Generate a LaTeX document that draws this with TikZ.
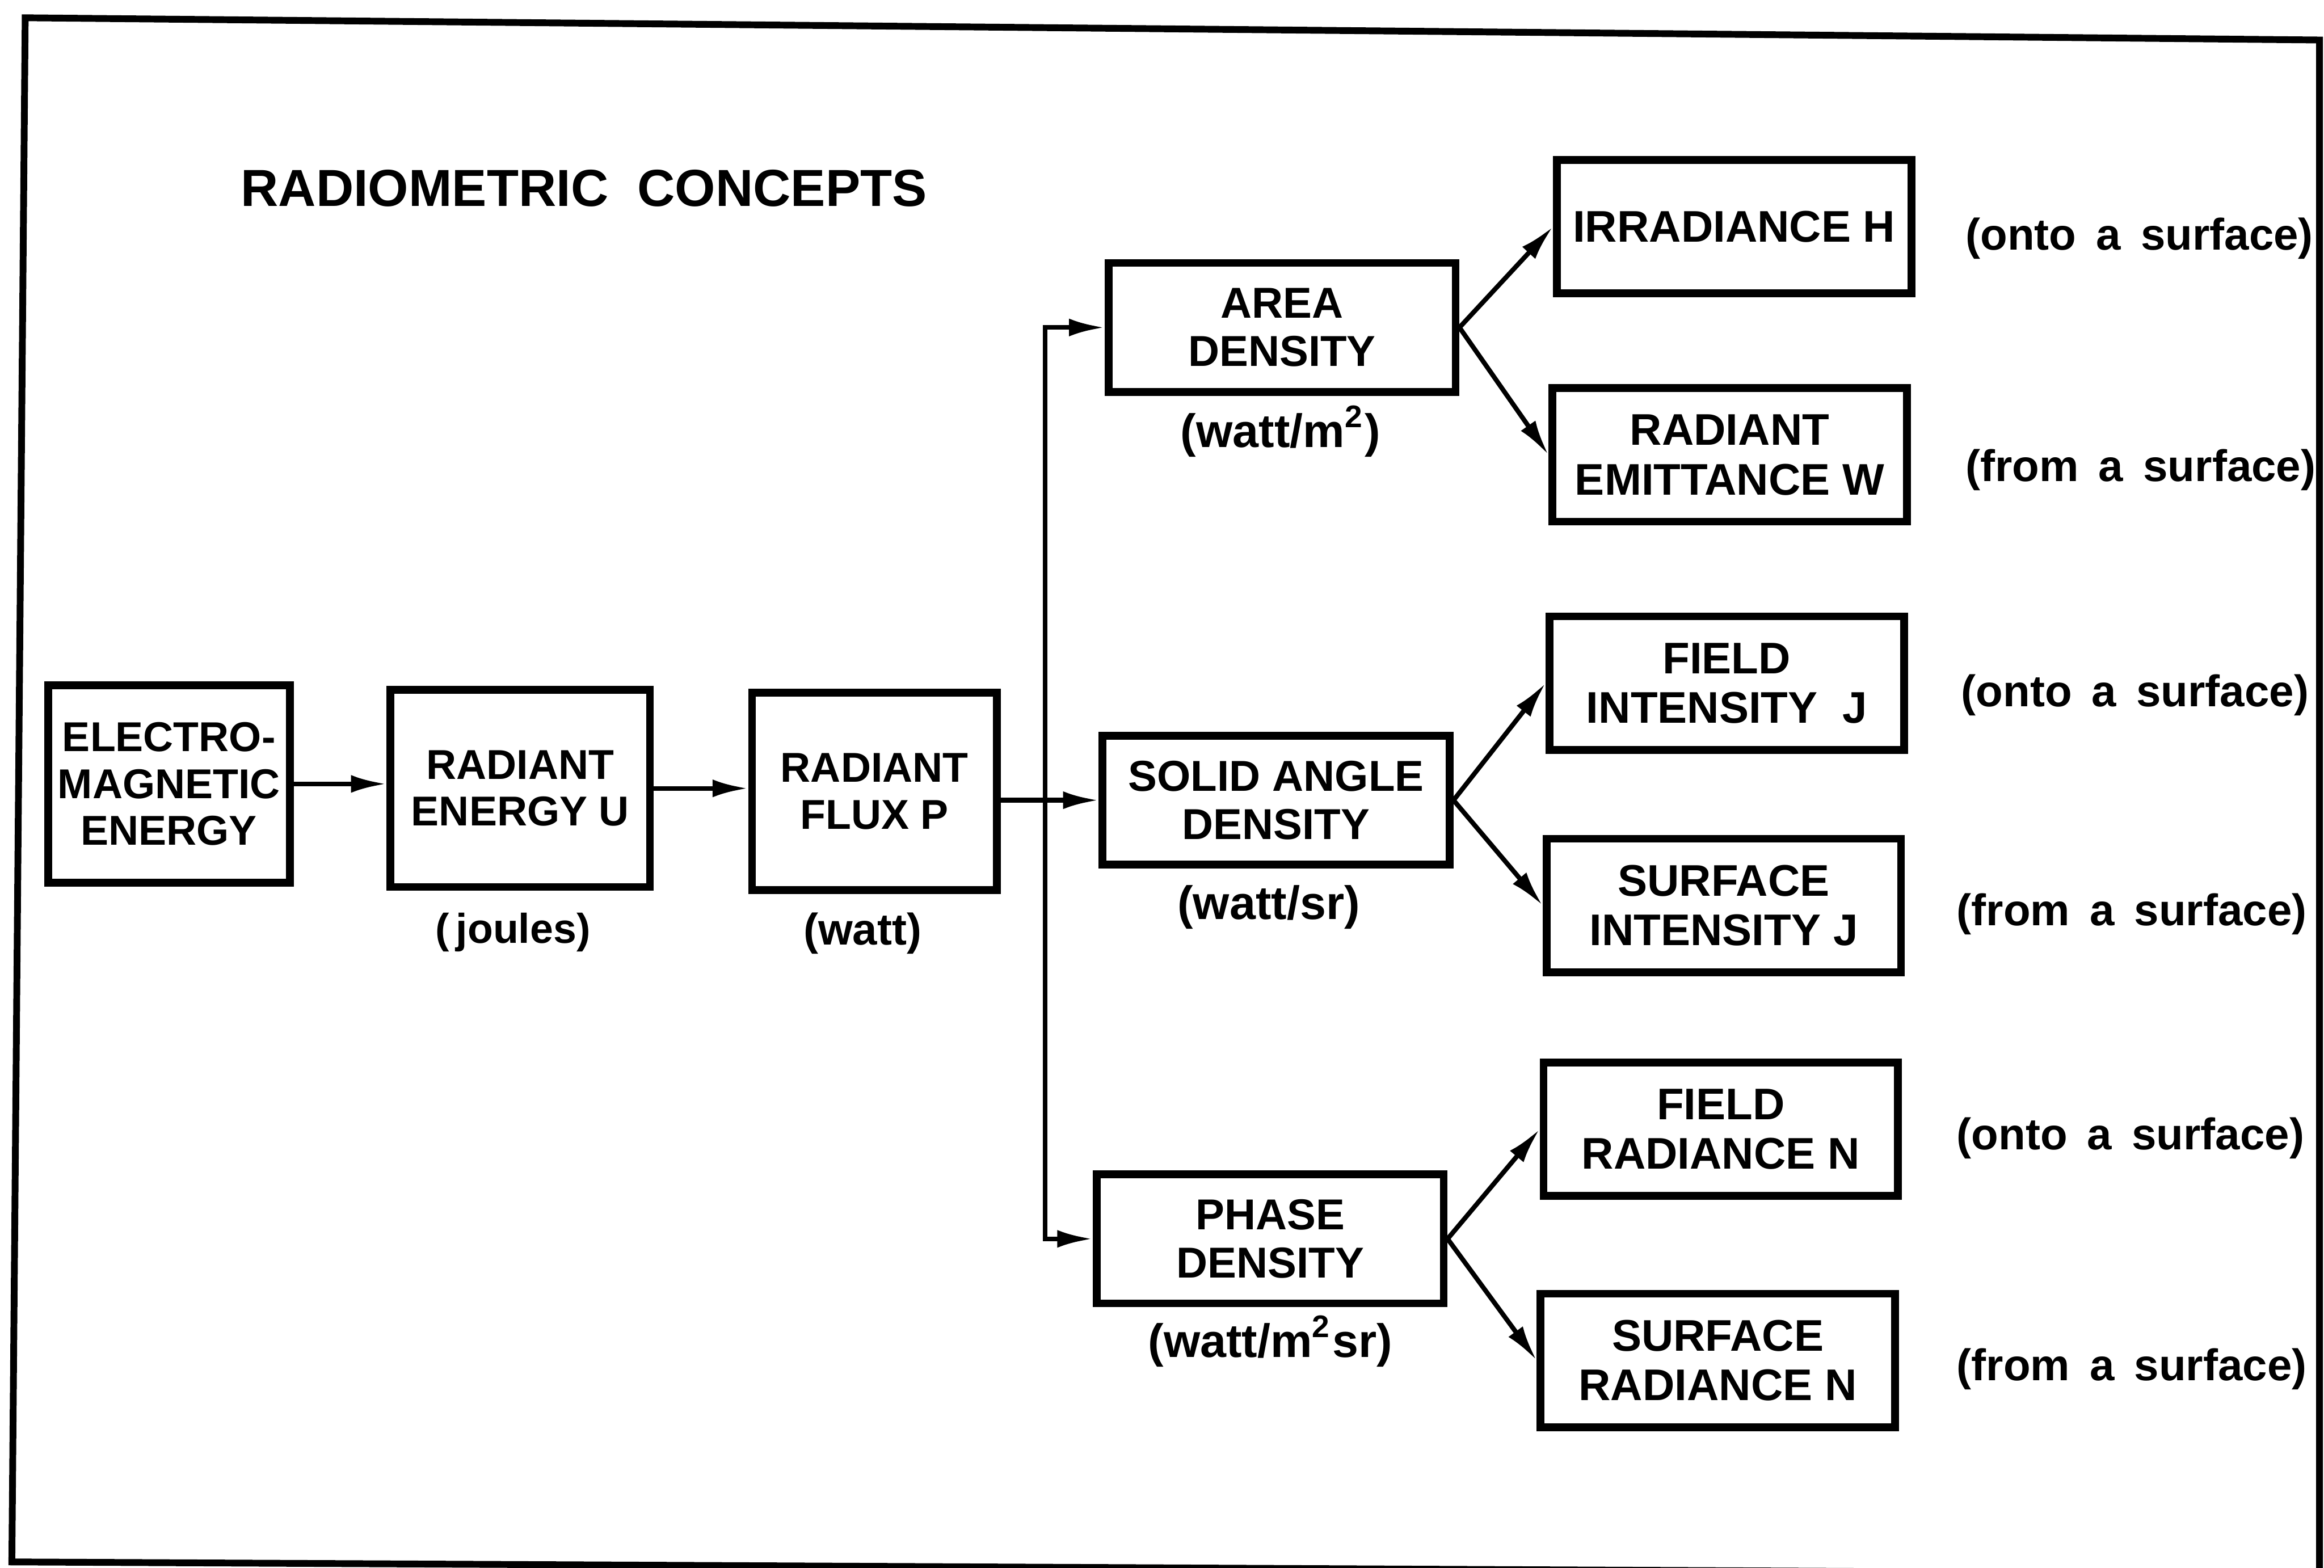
\documentclass[tikz,border=0pt]{standalone}
\usepackage{fontspec}
\setmainfont{Liberation Sans}
\usetikzlibrary{arrows.meta,positioning}
\tikzset{
  concept/.style={draw, line width=1.5pt, align=center, inner sep=1pt,
    font=\bfseries\fontsize{8}{9}\selectfont},
  srcbox/.style={concept, minimum width=1.68cm, minimum height=1.33cm},
  densbox/.style={concept, minimum width=2.34cm, minimum height=0.87cm,
    font=\bfseries\fontsize{8.3}{9.3}\selectfont},
  qtybox/.style={concept, minimum width=2.39cm, minimum height=0.90cm,
    font=\bfseries\fontsize{8.5}{9.5}\selectfont},
  unit/.style={font=\bfseries\fontsize{8.5}{9}\selectfont, inner sep=1pt},
  densunit/.style={unit, font=\bfseries\fontsize{9}{10}\selectfont},
  side/.style={unit, anchor=west},
  arr/.style={line width=0.9pt, -{Latex[length=2.4mm,width=1.2mm]}}
}
\newcommand{\gap}{\hspace{0.45em}}
\begin{document}
\begin{tikzpicture}[x=0.01cm,y=-0.01cm]
  \useasboundingbox (0,0) rectangle (1568,1058);
  % frame
  \draw[line width=1.3pt] (17,12) -- (1565,27) -- (1565,1062) -- (8,1054) -- cycle;
  \node[font=\bfseries\fontsize{10}{12}\selectfont] (title) at (394,127) {RADIOMETRIC\ \ CONCEPTS};

  % chain
  \node[srcbox, minimum width=1.63cm] (em) at (114,529) {ELECTRO-\\MAGNETIC\\ENERGY};
  \node[srcbox, minimum width=1.75cm] (re) at (351,532) {RADIANT\\ENERGY U};
  \node[srcbox, minimum width=1.65cm] (rf) at (590,534) {RADIANT\\FLUX P};
  \node[unit, font=\bfseries\fontsize{8}{9}\selectfont] (joules) at (346,629) {(\,joules)};
  \node[unit] (watt) at (582,630) {(watt)};

  % densities
  \node[densbox] (ad) at (865,221) {AREA\\DENSITY};
  \node[densbox] (sa) at (861,540) {SOLID ANGLE\\DENSITY};
  \node[densbox] (pd) at (857,836) {PHASE\\DENSITY};
  \node[densunit] (adunit) at (864,291) {(watt/m\textsuperscript{2})};
  \node[densunit] (saunit) at (856,612) {(watt/sr)};
  \node[densunit] (pdunit) at (857,905) {(watt/m\textsuperscript{2}sr)};

  % quantities
  \node[qtybox] (irr) at (1170,153) {IRRADIANCE H};
  \node[qtybox] (emit) at (1167,307) {RADIANT\\EMITTANCE W};
  \node[qtybox] (fint) at (1165,461) {FIELD\\INTENSITY\ \ J};
  \node[qtybox] (sint) at (1163,611) {SURFACE\\INTENSITY J};
  \node[qtybox] (frad) at (1161,762) {FIELD\\RADIANCE N};
  \node[qtybox] (srad) at (1159,918) {SURFACE\\RADIANCE N};

  \node[side] (s1) at (1322,161) {(onto\gap a\gap surface)};
  \node[side] (s2) at (1322,317) {(from\gap a\gap surface)};
  \node[side] (s3) at (1319,469) {(onto\gap a\gap surface)};
  \node[side] (s4) at (1316,617) {(from\gap a\gap surface)};
  \node[side] (s5) at (1316,768) {(onto\gap a\gap surface)};
  \node[side] (s6) at (1316,924) {(from\gap a\gap surface)};

  % connectors
  \draw[arr] (em) -- (em -| re.west);
  \draw[arr] (re) -- (re -| rf.west);
  \draw[arr] (rf.east |- sa.west) -- (sa.west);
  \coordinate (bus) at (705,540);
  \draw[arr] (bus) |- (ad.west);
  \draw[arr] (bus) |- (pd.west);
  \draw[arr] (ad.east) -- (irr.west);
  \draw[arr] (ad.east) -- (emit.west);
  \draw[arr] (sa.east) -- (fint.west);
  \draw[arr] (sa.east) -- (sint.west);
  \draw[arr] (pd.east) -- (frad.west);
  \draw[arr] (pd.east) -- (srad.west);
\end{tikzpicture}
\end{document}
